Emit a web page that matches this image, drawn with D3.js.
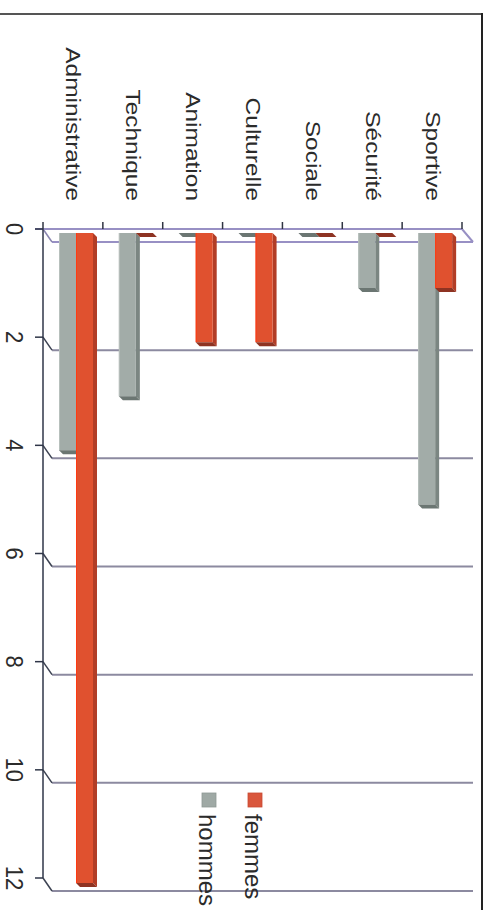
<!DOCTYPE html>
<html>
<head>
<meta charset="utf-8">
<script src="https://cdn.jsdelivr.net/npm/d3@7"></script>
<style>
  html, body { margin: 0; padding: 0; background: #ffffff; }
  svg { display: block; }
  text { font-family: "Liberation Sans", Arial, Helvetica, sans-serif; fill: #2b2b2b; }
</style>
</head>
<body>
<svg id="chart" width="489" height="910"></svg>
<script>
// Effectifs par filière, hommes / femmes
const categories = ["Administrative", "Technique", "Animation", "Culturelle", "Sociale", "Sécurité", "Sportive"];
const hommes = [4, 3, 0, 0, 0, 1, 5];
const femmes = [12, 0, 2, 2, 0, 0, 1];
const tickValues = [0, 2, 4, 6, 8, 10, 12];
const seriesNames = ["hommes", "femmes"];
const legendOrder = ["femmes", "hommes"];

const svg = d3.select("#chart");

// The chart is laid out sideways: categories run left to right along the top,
// values grow downward.
const y = d3.scaleLinear().domain([0, 12]).range([229, 878]);
const x = d3.scaleBand().domain(categories).range([43, 462]);
const xs = d3.scaleBand().domain(seriesNames).range([16, 50]);

const wallDX = 9, wallDY = 13;   // depth of the back wall
const barDX = 4, barDY = 4;      // depth of each bar
const barOffset = 4;             // bar front face sits slightly in front of the axis

const palette = {
  hommes: { front: "#a2aca8", side: "#7b8682", cap: "#6b7672", edge: "#b7c0bc" },
  femmes: { front: "#e0512f", side: "#b23d26", cap: "#8e3322", edge: "#ff3a12" }
};

// Outer frame (top and right edges)
svg.append("line").attr("x1", 0).attr("x2", 482).attr("y1", 14).attr("y2", 14)
  .attr("stroke", "#555").attr("stroke-width", 2);
svg.append("line").attr("x1", 482).attr("x2", 482).attr("y1", 13).attr("y2", 910)
  .attr("stroke", "#222").attr("stroke-width", 2);

// Back-wall gridlines
const grid = svg.append("g");
grid.selectAll("line.grid").data(tickValues).join("line")
  .attr("class", "grid")
  .attr("x1", x.range()[0] + wallDX).attr("x2", x.range()[1] + wallDX + 2)
  .attr("y1", d => y(d) + wallDY).attr("y2", d => y(d) + wallDY)
  .attr("stroke", d => d === 0 ? "#9890c4" : "#8c8aa0")
  .attr("stroke-width", 2);

// Diagonal connectors from the axis to the wall
grid.selectAll("line.diag").data(tickValues).join("line")
  .attr("class", "diag")
  .attr("x1", x.range()[0]).attr("y1", d => y(d))
  .attr("x2", x.range()[0] + wallDX).attr("y2", d => y(d) + wallDY)
  .attr("stroke", d => d === 0 ? "#8a86b0" : "#3c4252")
  .attr("stroke-width", 1.5);

// Floor outline along the category axis
svg.append("path")
  .attr("d", `M${x.range()[0] - 8},${y(0)} L${x.range()[1]},${y(0)} L${x.range()[1] + 11},${y(0) + wallDY}`)
  .attr("fill", "none").attr("stroke", "#9890c4").attr("stroke-width", 2);

// Category ticks
const bounds = categories.map(c => x(c)).concat([x.range()[1]]);
svg.selectAll("line.ctick").data(bounds).join("line")
  .attr("class", "ctick")
  .attr("x1", d => d).attr("x2", d => d)
  .attr("y1", y(0) - 7).attr("y2", y(0))
  .attr("stroke", "#2f3442").attr("stroke-width", 1.5);

// Value axis
const axis = svg.append("g");
axis.append("line")
  .attr("x1", x.range()[0]).attr("x2", x.range()[0])
  .attr("y1", y(0)).attr("y2", y(12))
  .attr("stroke", "#2f3648").attr("stroke-width", 1.5);
axis.selectAll("line.vtick").data(tickValues).join("line")
  .attr("class", "vtick")
  .attr("x1", x.range()[0] - 8).attr("x2", x.range()[0])
  .attr("y1", d => y(d)).attr("y2", d => y(d))
  .attr("stroke", "#2f3648").attr("stroke-width", 1.5);
axis.selectAll("text.vlabel").data(tickValues).join("text")
  .attr("class", "vlabel")
  .attr("transform", d => `translate(15,${y(d)}) rotate(90) scale(1,1.1)`)
  .attr("text-anchor", "middle")
  .attr("dy", "0.36em")
  .style("font-size", "22px")
  .text(d => d);

// Category labels
svg.selectAll("text.clabel").data(categories).join("text")
  .attr("class", "clabel")
  .attr("transform", d => `translate(${x(d) + x.bandwidth() / 2 + 1},201) rotate(90) scale(1,0.85)`)
  .attr("text-anchor", "end")
  .attr("dy", "0.36em")
  .style("font-size", "24.5px")
  .text(d => d);

// Bars with a shallow 3D extrusion
const rows = categories.map((c, i) => ({ cat: c, hommes: hommes[i], femmes: femmes[i] }));
const barData = [];
rows.forEach(r => seriesNames.forEach(s => barData.push({ cat: r.cat, series: s, value: r[s] })));

const bars = svg.append("g").selectAll("g.bar").data(barData).join("g").attr("class", "bar");
bars.each(function (d) {
  const g = d3.select(this);
  const c = palette[d.series];
  const x0 = x(d.cat) + xs(d.series);
  const x1 = x0 + xs.bandwidth();
  const y0 = y(0) + barOffset;
  const y1 = y(d.value) + barOffset + (d.value > 0 ? 1 : 0);
  // right side face
  g.append("path")
    .attr("d", `M${x1},${y0} L${x1 + barDX},${y0 + barDY} L${x1 + barDX},${y1 + barDY} L${x1},${y1} Z`)
    .attr("fill", c.side);
  // front face
  if (d.value > 0) {
    g.append("rect")
      .attr("x", x0).attr("y", y0)
      .attr("width", x1 - x0).attr("height", y1 - y0)
      .attr("fill", c.front);
    g.append("line")
      .attr("x1", x0 + 0.5).attr("x2", x0 + 0.5).attr("y1", y0).attr("y2", y1)
      .attr("stroke", c.edge).attr("stroke-width", 1);
  }
  // end cap
  g.append("path")
    .attr("d", `M${x0},${y1} L${x1},${y1} L${x1 + barDX},${y1 + barDY} L${x0 + barDX},${y1 + barDY} Z`)
    .attr("fill", c.cap);
});

// Legend
const legendX = { femmes: 255, hommes: 209 };
const legend = svg.append("g").selectAll("g").data(legendOrder).join("g");
legend.append("rect")
  .attr("x", d => legendX[d] - 7).attr("y", 793)
  .attr("width", 14).attr("height", 14)
  .attr("fill", d => d === "femmes" ? "#d9563c" : "#9fa9a5")
  .attr("stroke", d => d === "femmes" ? "#c84a32" : "#8e9894").attr("stroke-width", 0.8);
legend.append("text")
  .attr("transform", d => `translate(${legendX[d] - 1},814) rotate(90)`)
  .attr("text-anchor", "start")
  .attr("dy", "0.36em")
  .style("font-size", "24px")
  .text(d => d);
</script>
</body>
</html>
